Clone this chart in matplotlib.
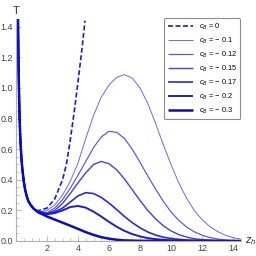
import numpy as np
import matplotlib
matplotlib.use("Agg")
import matplotlib.pyplot as plt
from matplotlib.ticker import MultipleLocator

plt.rcParams['font.family'] = ['Liberation Sans', 'DejaVu Sans']
plt.rcParams['mathtext.fontset'] = 'custom'
plt.rcParams['mathtext.it'] = 'Liberation Sans:italic'
plt.rcParams['mathtext.rm'] = 'Liberation Sans'

# common steep branch near z_h -> 0
z_left = [0.13, 0.15, 0.18, 0.22, 0.26, 0.3, 0.35, 0.41, 0.5, 0.6, 0.7, 0.8, 0.95, 1.1, 1.27]
T_left = [1.45, 1.26, 1.05, 0.85, 0.72, 0.63, 0.54, 0.47, 0.39, 0.33, 0.29, 0.26, 0.235, 0.215, 0.20]

z_c0 = [1.5, 2.0, 2.5, 3.0, 3.25, 3.5, 3.75, 4.0, 4.25, 4.45]
T_c0 = [0.20, 0.215, 0.275, 0.40, 0.50, 0.66, 0.84, 1.04, 1.25, 1.44]

z_c010 = [1.5, 2.0, 2.5, 3.0, 3.5, 4.0, 4.5, 5.0, 5.5, 6.0, 6.5, 7.0, 7.5, 8.0, 8.5,
          9.0, 9.5, 10.0, 10.5, 11.0, 11.5, 12.0, 12.5, 13.0, 13.5, 14.0, 14.5]
T_c010 = [0.19, 0.20, 0.235, 0.30, 0.39, 0.51, 0.67, 0.82, 0.94, 1.02, 1.07, 1.087, 1.065, 1.0, 0.90,
          0.77, 0.63, 0.50, 0.38, 0.28, 0.20, 0.14, 0.095, 0.062, 0.038, 0.022, 0.012]

z_c012 = [2.0, 2.5, 3.0, 3.5, 4.0, 4.5, 5.0, 5.5, 6.0, 6.5, 7.0, 7.5, 8.0, 8.5, 9.0,
          9.5, 10.0, 10.5, 11.0, 11.5, 12.0, 12.5, 13.0, 13.5, 14.0, 14.5]
T_c012 = [0.185, 0.215, 0.27, 0.345, 0.43, 0.52, 0.61, 0.68, 0.717, 0.71, 0.67, 0.60, 0.515, 0.425, 0.34,
          0.26, 0.19, 0.135, 0.092, 0.06, 0.038, 0.023, 0.013, 0.007, 0.004, 0.002]

z_c015 = [2.0, 2.5, 3.0, 3.5, 4.0, 4.5, 5.0, 5.5, 6.0, 6.5, 7.0, 7.5, 8.0, 8.5, 9.0,
          9.5, 10.0, 10.5, 11.0, 11.5, 12.0, 13.0, 14.5]
T_c015 = [0.18, 0.20, 0.245, 0.31, 0.38, 0.445, 0.50, 0.52, 0.505, 0.465, 0.405, 0.335, 0.265, 0.20, 0.145,
          0.10, 0.066, 0.042, 0.026, 0.015, 0.009, 0.003, 0.0005]

z_c017 = [2.0, 2.5, 3.0, 3.5, 4.0, 4.5, 5.0, 5.5, 6.0, 6.5, 7.0, 7.5, 8.0, 8.5, 9.0,
          9.5, 10.0, 11.0, 12.0, 14.5]
T_c017 = [0.178, 0.19, 0.215, 0.255, 0.295, 0.316, 0.31, 0.285, 0.248, 0.205, 0.16, 0.12, 0.086, 0.059, 0.039,
          0.025, 0.016, 0.006, 0.002, 0.0]

z_c020 = [1.5, 2.0, 2.5, 3.0, 3.5, 4.0, 4.5, 5.0, 5.5, 6.0, 6.5, 7.0, 7.5, 8.0, 8.5, 9.0,
          10.0, 11.0, 14.5]
T_c020 = [0.182, 0.175, 0.182, 0.20, 0.222, 0.229, 0.218, 0.192, 0.16, 0.125, 0.093, 0.066, 0.045,
          0.03, 0.019, 0.012, 0.004, 0.001, 0.0]

z_c030 = [1.5, 2.0, 2.5, 3.0, 3.5, 4.0, 4.5, 5.0, 5.5, 6.0, 6.5, 7.0, 8.0, 14.5]
T_c030 = [0.185, 0.16, 0.14, 0.12, 0.10, 0.079, 0.058, 0.04, 0.025, 0.015, 0.008, 0.004, 0.001, 0.0]

labels = ['0', '\u2212 0.1', '\u2212 0.12', '\u2212 0.15', '\u2212 0.17', '\u2212 0.2', '\u2212 0.3']
series = [(z_c0, T_c0), (z_c010, T_c010), (z_c012, T_c012), (z_c015, T_c015),
          (z_c017, T_c017), (z_c020, T_c020), (z_c030, T_c030)]
colors = ['#1c1cc8', '#6a6ae6', '#5656dd', '#4242d6', '#2c2ccd', '#1e1ec6', '#0c0cbe']
widths = [1.2, 0.7, 0.85, 1.0, 1.2, 1.4, 1.8]

fig = plt.figure(figsize=(2.56, 2.56), dpi=100)
ax = fig.add_axes([0.0625, 0.0586, 0.878, 0.8666])

for i, (z, T) in enumerate(series):
    zz = np.concatenate([z_left, z])
    TT = np.concatenate([T_left, T])
    ax.plot(zz, TT, color=colors[i], lw=widths[i],
            ls='--' if i == 0 else '-', dashes=(3, 1.5) if i == 0 else (None, None),
            label=r'$c_B$ = ' + labels[i], solid_capstyle='butt', solid_joinstyle='round')

ax.set_xlim(0, 14.5)
ax.set_ylim(0, 1.45)
for s in ['top', 'right']:
    ax.spines[s].set_visible(False)
for s in ['left', 'bottom']:
    ax.spines[s].set_color('#b0b0b0')
    ax.spines[s].set_linewidth(0.8)

ax.xaxis.set_minor_locator(MultipleLocator(0.5))
ax.yaxis.set_minor_locator(MultipleLocator(0.05))
ax.set_xticks([2, 4, 6, 8, 10, 12, 14])
ax.set_yticks(np.arange(0, 1.41, 0.2))
ax.set_yticklabels(['%.1f' % v for v in np.arange(0, 1.41, 0.2)])
ax.tick_params(which='both', direction='in', color='#b0b0b0', labelsize=6.5,
               labelcolor='#444444', pad=2)
ax.tick_params(which='major', length=3.5, width=0.6)
ax.tick_params(which='minor', length=2, width=0.5)

ax.text(0, 1.47, 'T', fontsize=8, color='#333333', ha='center', va='bottom',
        clip_on=False)
ax.text(14.75, 0.0, r'$z_h$', fontsize=8, color='#333333', ha='left', va='center',
        clip_on=False)

leg = ax.legend(loc='upper right', bbox_to_anchor=(1.015, 1.02), fontsize=5.3,
                frameon=True, fancybox=True, edgecolor='#707070', handlelength=3.4,
                labelspacing=0.5, borderpad=0.5, handletextpad=0.8)
leg.get_frame().set_linewidth(0.8)

fig.savefig('out.png', dpi=100)
